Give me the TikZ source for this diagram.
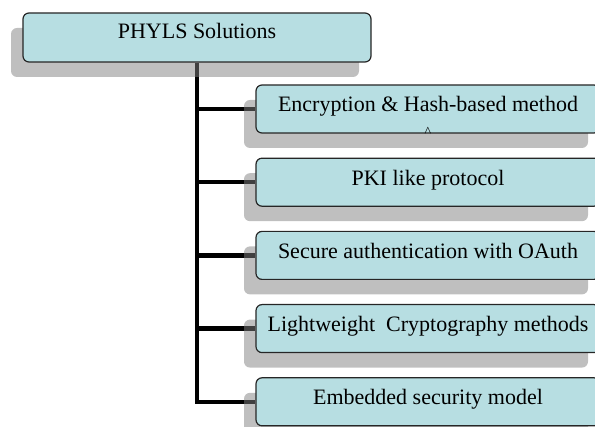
\documentclass[tikz,border=0pt]{standalone}
\usepackage{fontspec}
\setmainfont{Liberation Serif}
\usetikzlibrary{positioning,shadows,backgrounds}

\definecolor{boxcyan}{HTML}{B7DEE2}
\tikzset{
  solbox/.style={draw=black!85, line width=1.2pt, fill=boxcyan, rounded corners=6pt,
    inner sep=0pt, text height=27pt, text depth=21pt, minimum width=344pt,
    font=\fontsize{22}{26}\selectfont,
    drop shadow={shadow xshift=-12pt, shadow yshift=-15pt}},
  rootbox/.style={solbox, minimum width=348pt, text height=26pt, text depth=23pt},
  tree/.style={line width=4.5pt, black}
}

\begin{document}
\begin{tikzpicture}[x=1pt,y=1pt]
\useasboundingbox (0,0) rectangle (595,-427);
\clip (0,0) rectangle (595,-427);
% root and the five branches
\node[rootbox] (root) at (197,-37.5) {PHYLS Solutions};
\node[solbox] (enc) at (428,-109) {Encryption \& Hash-based method};
\node[solbox, below=24pt of enc] (pki) {PKI like protocol};
\node[solbox, below=24pt of pki] (oauth) {Secure authentication with OAuth};
\node[solbox, below=24pt of oauth] (light) {Lightweight\ \ Cryptography methods};
\node[solbox, below=24pt of light] (embed) {Embedded security model};
\node[font=\fontsize{14}{14}\selectfont, inner sep=0pt, anchor=south] (caret) at ([yshift=-3pt]enc.south) {\textasciicircum};
% connectors go under the shadows
\begin{scope}[on background layer]
\draw[tree] (root.south) |- (embed.west);
\foreach \b in {enc,pki,oauth,light} \draw[tree] (root.south |- \b.west) -- (\b.west);
\end{scope}
\end{tikzpicture}
\end{document}
